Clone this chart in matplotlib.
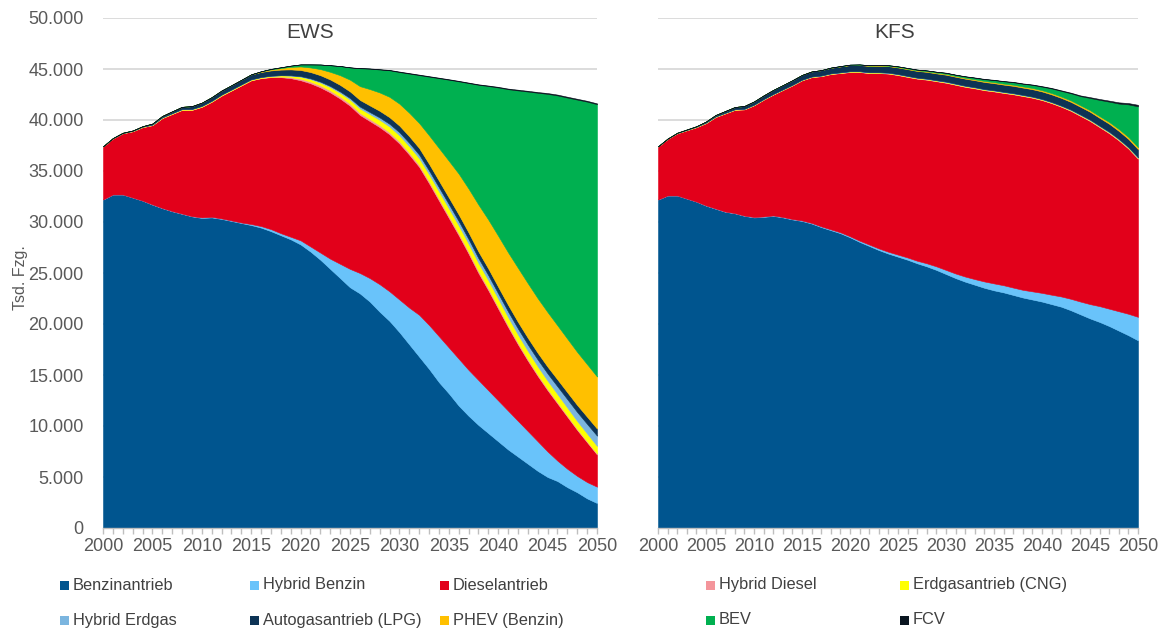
import matplotlib
matplotlib.use("Agg")
import matplotlib.pyplot as plt
from matplotlib.ticker import FuncFormatter, MultipleLocator
from matplotlib.patches import Rectangle

plt.rcParams['font.family'] = ['Liberation Sans', 'DejaVu Sans']

# ---------------- data (Mio. Fzg.; axis shows Tsd. Fzg.) ----------------
years = list(range(2000, 2051))

series_names = ["Benzinantrieb", "Hybrid Benzin", "Dieselantrieb", "Hybrid Diesel",
                "Erdgasantrieb (CNG)", "Hybrid Erdgas", "Autogasantrieb (LPG)",
                "PHEV (Benzin)", "BEV", "FCV"]
series_colors = ["#00558F", "#69C3FA", "#E2001A", "#F4959B", "#FFFF00",
                 "#7BB5DF", "#0D3355", "#FFC000", "#00B050", "#0A1520"]

# EWS scenario
ews_benzin = [32.2, 32.7, 32.7, 32.4, 32.1, 31.7, 31.35, 31.05, 30.8, 30.55,
              30.4, 30.45, 30.3, 30.1, 29.9, 29.7, 29.45, 29.1, 28.7, 28.3,
              27.8, 27.1, 26.3, 25.4, 24.5, 23.6, 23.0, 22.2, 21.2, 20.3,
              19.2, 18.0, 16.8, 15.6, 14.3, 13.2, 12.0, 11.0, 10.1, 9.3,
              8.5, 7.7, 7.0, 6.3, 5.6, 5.0, 4.6, 4.0, 3.5, 2.9, 2.45]
ews_hyb_benzin = [0, 0, 0, 0, 0, .02, .02, .02, .02, .02,
                  .05, .05, .05, .05, .05, .1, .15, .2, .2, .25,
                  .4, .5, .7, 1.0, 1.4, 1.8, 2.0, 2.3, 2.7, 2.9,
                  3.2, 3.6, 4.1, 4.3, 4.5, 4.5, 4.6, 4.5, 4.4, 4.2,
                  4.0, 3.8, 3.5, 3.2, 2.9, 2.5, 2.0, 1.8, 1.6, 1.6, 1.6]
ews_diesel = [5.2, 5.5, 6.0, 6.5, 7.2, 7.78, 8.83, 9.53, 10.18, 10.43,
              10.85, 11.3, 12.05, 12.75, 13.45, 14.1, 14.5, 14.9, 15.3, 15.55,
              15.7, 16.0, 16.2, 16.3, 16.2, 16.0, 15.5, 15.4, 15.4, 15.4,
              15.3, 15.0, 14.5, 13.9, 13.3, 12.7, 12.1, 11.4, 10.5, 9.8,
              9.0, 8.2, 7.5, 6.9, 6.4, 6.0, 5.6, 5.1, 4.5, 3.9, 3.15]
ews_hyb_diesel = [0, 0, 0, 0, 0, 0, 0, 0, 0, 0,
                  0, 0, 0, 0, 0, 0, .02, .04, .06, .1,
                  .15, .17, .19, .2, .2, .2, .2, .2, .2, .2,
                  .2, .2, .2, .2, .2, .2, .2, .2, .2, .2,
                  .19, .18, .17, .16, .15, .14, .13, .12, .11, .1, .1]
ews_cng = [.01, .01, .02, .03, .04, .05, .06, .07, .07, .08,
           .08, .08, .09, .09, .09, .09, .09, .1, .12, .15,
           .2, .24, .28, .32, .36, .4, .44, .48, .52, .56,
           .6, .63, .66, .69, .72, .75, .77, .78, .79, .8,
           .8, .8, .8, .8, .8, .8, .79, .78, .77, .76, .75]
ews_hyb_erdgas = [0, 0, 0, 0, 0, 0, 0, 0, 0, 0,
                  0, 0, 0, 0, 0, 0, 0, 0, .01, .03,
                  .05, .07, .09, .11, .13, .15, .18, .2, .23, .26,
                  .3, .32, .34, .36, .38, .4, .42, .44, .46, .48,
                  .5, .54, .58, .62, .66, .7, .76, .82, .88, .94, 1.0]
ews_lpg = [.01, .02, .03, .04, .05, .1, .14, .18, .22, .28,
           .32, .36, .4, .42, .45, .47, .5, .52, .55, .58,
           .6, .62, .63, .64, .65, .65, .65, .65, .65, .65,
           .65, .65, .65, .65, .65, .65, .65, .65, .65, .65,
           .65, .65, .65, .66, .66, .67, .68, .68, .69, .7, .7]
ews_phev = [0, 0, 0, 0, 0, 0, 0, 0, 0, 0,
            0, 0, 0, 0, 0, .02, .05, .1, .15, .25,
            .35, .45, .6, .75, .95, 1.15, 1.35, 1.6, 1.8, 2.0,
            2.15, 2.3, 2.45, 2.8, 3.2, 3.6, 4.0, 4.3, 4.6, 4.8,
            5.0, 5.15, 5.3, 5.35, 5.35, 5.35, 5.3, 5.25, 5.2, 5.15, 5.1]
ews_bev = [0, 0, 0, 0, 0, 0, 0, 0, 0, 0,
           0, 0, 0, 0, 0, 0, .02, .05, .08, .12,
           .2, .3, .45, .65, .9, 1.2, 1.75, 2.0, 2.25, 2.6,
           3.1, 3.85, 4.7, 5.75, 6.85, 7.95, 9.05, 10.35, 11.75, 13.1,
           14.55, 16.0, 17.4, 18.8, 20.15, 21.4, 22.55, 23.65, 24.75, 25.75, 26.7]
ews_fcv = [0, 0, 0, 0, 0, 0, 0, 0, 0, 0,
           0, 0, 0, 0, 0, 0, 0, 0, 0, 0,
           0, 0, 0, 0, 0, .02, .02, .03, .03, .04,
           .05, .05, .05, .05, .05, .05, .05, .05, .05, .05,
           .06, .06, .07, .07, .07, .08, .08, .08, .08, .08, .08]

# KFS scenario
kfs_benzin = [32.2, 32.6, 32.6, 32.3, 32.0, 31.6, 31.3, 31.0, 30.85, 30.6,
              30.45, 30.5, 30.6, 30.45, 30.25, 30.1, 29.85, 29.5, 29.2, 28.9,
              28.5, 28.05, 27.65, 27.25, 26.9, 26.6, 26.3, 25.95, 25.65, 25.3,
              24.9, 24.5, 24.15, 23.85, 23.55, 23.3, 23.1, 22.85, 22.6, 22.4,
              22.2, 21.95, 21.7, 21.35, 20.95, 20.55, 20.2, 19.8, 19.35, 18.9, 18.4]
kfs_hyb_benzin = [0, 0, 0, 0, 0, .02, .02, .02, .02, .02,
                  .04, .04, .04, .04, .04, .05, .06, .07, .08, .09,
                  .1, .12, .14, .16, .18, .2, .22, .25, .3, .35,
                  .4, .45, .5, .55, .62, .68, .7, .72, .75, .8,
                  .85, .92, 1.0, 1.12, 1.25, 1.4, 1.55, 1.7, 1.9, 2.1, 2.3]
kfs_diesel = [5.2, 5.55, 6.1, 6.7, 7.3, 8.08, 8.98, 9.63, 10.13, 10.43,
              10.96, 11.46, 11.86, 12.46, 13.11, 13.75, 14.29, 14.73, 15.22, 15.61,
              16.1, 16.53, 16.81, 17.19, 17.47, 17.6, 17.7, 17.85, 18.0, 18.15,
              18.35, 18.5, 18.6, 18.7, 18.75, 18.82, 18.85, 18.95, 19.0, 18.98,
              18.9, 18.78, 18.6, 18.43, 18.2, 17.95, 17.55, 17.2, 16.75, 16.2, 15.5]
kfs_hyb_diesel = [0, 0, 0, 0, 0, 0, 0, 0, 0, 0,
                  0, 0, 0, 0, 0, 0, .01, .01, .02, .02,
                  .02, .02, .02, .02, .02, .03, .03, .03, .03, .03,
                  .03, .03, .03, .03, .03, .03, .03, .03, .03, .03,
                  .03, .03, .03, .03, .04, .04, .04, .04, .04, .04, .04]
kfs_cng = [.01, .01, .02, .03, .04, .05, .05, .05, .05, .05,
           .05, .05, .05, .05, .05, .05, .05, .05, .05, .05,
           .05, .05, .05, .05, .05, .05, .05, .05, .05, .05,
           .05, .05, .05, .05, .05, .05, .05, .05, .05, .05,
           .05, .05, .05, .05, .05, .05, .05, .05, .05, .05, .05]
kfs_hyb_erdgas = [0, 0, 0, 0, 0, 0, 0, 0, 0, 0,
                  0, 0, 0, 0, 0, 0, 0, 0, 0, 0,
                  .01, .01, .01, .01, .02, .02, .02, .02, .02, .02,
                  .03, .03, .03, .03, .03, .03, .03, .03, .03, .03,
                  .03, .03, .03, .04, .04, .04, .04, .05, .05, .05, .05]
kfs_lpg = [.01, .02, .03, .04, .05, .1, .14, .18, .22, .28,
           .32, .36, .4, .42, .45, .47, .5, .52, .55, .58,
           .6, .61, .62, .63, .64, .65, .66, .66, .67, .67,
           .68, .68, .69, .69, .7, .7, .71, .72, .72, .73,
           .74, .75, .76, .76, .77, .78, .78, .79, .79, .8, .8]
kfs_phev = [0, 0, 0, 0, 0, 0, 0, 0, 0, 0,
            0, 0, 0, 0, 0, 0, 0, .01, .01, .02,
            .02, .03, .03, .04, .04, .05, .05, .06, .06, .07,
            .08, .08, .09, .09, .1, .1, .1, .11, .11, .12,
            .12, .13, .13, .14, .14, .15, .16, .17, .18, .19, .2]
kfs_bev = [0, 0, 0, 0, 0, 0, 0, 0, 0, 0,
           0, 0, 0, 0, 0, 0, 0, 0, .01, .02,
           .03, .03, .04, .04, .05, .06, .07, .07, .08, .09,
           .1, .11, .13, .15, .17, .2, .22, .24, .26, .3,
           .35, .45, .55, .7, .9, 1.2, 1.6, 2.0, 2.5, 3.2, 4.0]
kfs_fcv = [0, 0, 0, 0, 0, 0, 0, 0, 0, 0,
           0, 0, 0, 0, 0, 0, 0, 0, 0, 0,
           0, 0, 0, 0, 0, 0, 0, 0, 0, 0,
           .02, .02, .02, .03, .03, .03, .03, .04, .04, .04,
           .05, .05, .06, .06, .07, .08, .09, .1, .12, .13, .15]

ews_data = [ews_benzin, ews_hyb_benzin, ews_diesel, ews_hyb_diesel, ews_cng,
            ews_hyb_erdgas, ews_lpg, ews_phev, ews_bev, ews_fcv]
kfs_data = [kfs_benzin, kfs_hyb_benzin, kfs_diesel, kfs_hyb_diesel, kfs_cng,
            kfs_hyb_erdgas, kfs_lpg, kfs_phev, kfs_bev, kfs_fcv]

panel_titles = ["EWS", "KFS"]
ytick_values = [0, 5, 10, 15, 20, 25, 30, 35, 40, 45, 50]
xtick_values = [2000, 2005, 2010, 2015, 2020, 2025, 2030, 2035, 2040, 2045, 2050]
ylabel_text = "Tsd. Fzg."

# ---------------- figure ----------------
W, H = 1165, 630
fig = plt.figure(figsize=(W / 100, H / 100), dpi=100)
axL = fig.add_axes([103 / W, 102 / H, 494 / W, 510 / H])
axR = fig.add_axes([658 / W, 102 / H, 480 / W, 510 / H])

tick_color = "#595959"
text_color = "#404040"


def fmt_de(v, pos):
    s = f"{v * 1000:,.0f}"
    return s.replace(",", ".")


for ax, data in ((axL, ews_data), (axR, kfs_data)):
    polys = ax.stackplot(years, *data, colors=series_colors, linewidth=0.4)
    for p, c in zip(polys, series_colors):
        p.set_edgecolor(c)
    ax.set_xlim(2000, 2050)
    ax.set_ylim(0, 50)
    ax.set_yticks(ytick_values)
    ax.yaxis.set_major_formatter(FuncFormatter(fmt_de))
    ax.set_xticks(xtick_values)
    ax.xaxis.set_minor_locator(MultipleLocator(1))
    ax.yaxis.grid(True, color="#D9D9D9", linewidth=1.3)
    ax.set_axisbelow(True)
    for s in ("left", "top", "right"):
        ax.spines[s].set_visible(False)
    ax.spines["bottom"].set_color("#BFBFBF")
    ax.spines["bottom"].set_linewidth(1.0)
    ax.spines["bottom"].set_zorder(5)
    ax.tick_params(axis="y", length=0, pad=14, labelsize=13, labelcolor=tick_color)
    ax.tick_params(axis="x", which="both", direction="out", length=4,
                   color="#BFBFBF", width=1, labelsize=13, labelcolor=tick_color, pad=3)

axR.tick_params(axis="y", labelleft=False)

fig.text(310 / W, 1 - 32 / H, panel_titles[0], ha="center", va="center",
         fontsize=15, color=text_color)
fig.text(895 / W, 1 - 32 / H, panel_titles[1], ha="center", va="center",
         fontsize=15, color=text_color)
fig.text(20 / W, 1 - 278 / H, ylabel_text, rotation=90, ha="center", va="center",
         fontsize=11.5, color=tick_color)

# legend (two rows, five columns, laid out like the original)
col_x = [60, 250, 440, 706, 900]
row_y = [585, 620]
for i, (name, col) in enumerate(zip(series_names, series_colors)):
    r, c = divmod(i, 5)
    x0 = col_x[c]
    y0 = row_y[r]
    fig.patches.append(Rectangle((x0 / W, 1 - (y0 + 4.5) / H), 9 / W, 9 / H,
                                 transform=fig.transFigure, facecolor=col,
                                 edgecolor="none"))
    fig.text((x0 + 13) / W, 1 - y0 / H, name, ha="left", va="center",
             fontsize=11.8, color=text_color)

fig.savefig("out.png", dpi=100)
